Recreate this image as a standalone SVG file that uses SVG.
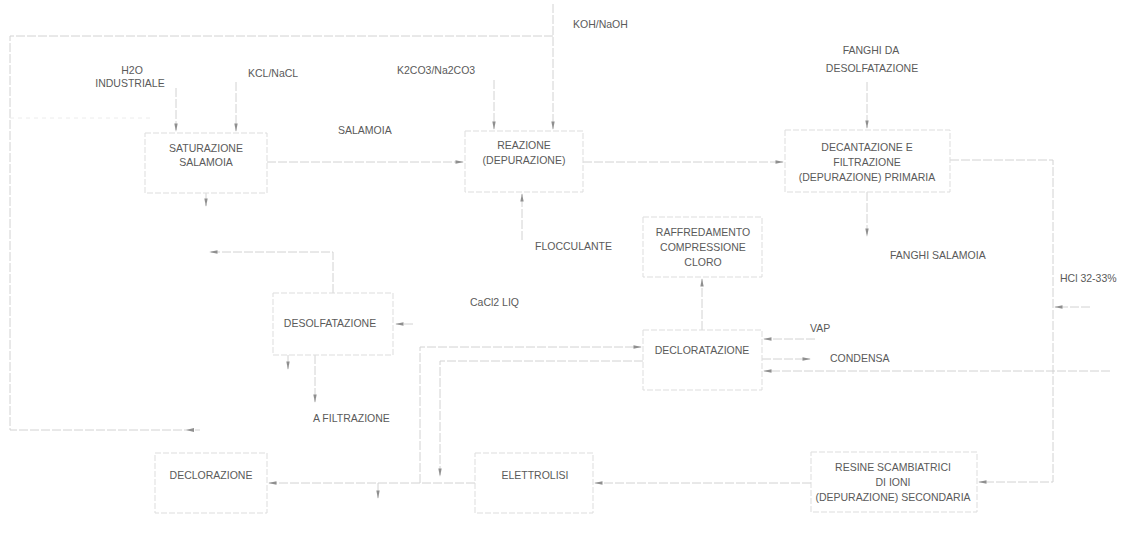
<svg xmlns="http://www.w3.org/2000/svg" width="1134" height="554" viewBox="0 0 1134 554">
<defs>
<style>
.box{fill:#fff;stroke:#dddddd;stroke-width:1;stroke-dasharray:6 2}
.ln{fill:none;stroke:#d2d2d2;stroke-width:1;stroke-dasharray:9 2}
.fl{fill:none;stroke:#ececec;stroke-width:1;stroke-dasharray:4 4}
.t{font-family:"Liberation Sans",Arial,sans-serif;font-size:10.5px;fill:#5a5a5a}
.c{text-anchor:middle}
</style>
<marker id="a" viewBox="0 0 10 6" refX="9" refY="3" markerWidth="10" markerHeight="5" markerUnits="userSpaceOnUse" orient="auto">
<path d="M0,1 L10,3 L0,5 Z" fill="#8f8f8f"/>
</marker>
</defs>
<rect width="1134" height="554" fill="#fff"/>
<g id="connectors">
<polyline class="ln" points="553,36 10,36 10,430 200,430"/>
<path d="M186,430 l8,-2 v4 z" fill="#8f8f8f"/>
<line class="fl" x1="10" y1="118" x2="150" y2="118"/>
<line class="ln" x1="176" y1="88" x2="176" y2="131" marker-end="url(#a)"/>
<line class="ln" x1="236" y1="82" x2="236" y2="131" marker-end="url(#a)"/>
<line class="ln" x1="494" y1="80" x2="494" y2="129" marker-end="url(#a)"/>
<line class="ln" x1="553" y1="4" x2="553" y2="129" marker-end="url(#a)"/>
<line class="ln" x1="867" y1="82" x2="867" y2="128" marker-end="url(#a)"/>
<line class="ln" x1="267" y1="162" x2="463" y2="162" marker-end="url(#a)"/>
<line class="ln" x1="583" y1="162" x2="783" y2="162" marker-end="url(#a)"/>
<polyline class="ln" points="950,160 1053,160 1053,482 979,482" marker-end="url(#a)"/>
<line class="ln" x1="1090" y1="307" x2="1055" y2="307" marker-end="url(#a)"/>
<line class="ln" x1="867" y1="192" x2="867" y2="236" marker-end="url(#a)"/>
<line class="ln" x1="522" y1="240" x2="522" y2="194" marker-end="url(#a)"/>
<line class="ln" x1="206" y1="193" x2="206" y2="206" marker-end="url(#a)"/>
<polyline class="ln" points="333,293 333,252 210,252" marker-end="url(#a)"/>
<line class="ln" x1="413" y1="324" x2="396" y2="324" marker-end="url(#a)"/>
<line class="ln" x1="288" y1="355" x2="288" y2="369" marker-end="url(#a)"/>
<line class="ln" x1="315" y1="355" x2="315" y2="402" marker-end="url(#a)"/>
<line class="ln" x1="702" y1="330" x2="702" y2="279" marker-end="url(#a)"/>
<line class="ln" x1="815" y1="339" x2="764" y2="339" marker-end="url(#a)"/>
<line class="ln" x1="762" y1="359" x2="810" y2="359" marker-end="url(#a)"/>
<line class="ln" x1="1110" y1="371" x2="764" y2="371" marker-end="url(#a)"/>
<line class="ln" x1="811" y1="483" x2="595" y2="483" marker-end="url(#a)"/>
<line class="ln" x1="475" y1="483" x2="269" y2="483" marker-end="url(#a)"/>
<polyline class="ln" points="420,483 420,347 641,347" marker-end="url(#a)"/>
<polyline class="ln" points="643,361 440,361 440,476" marker-end="url(#a)"/>
<line class="ln" x1="378" y1="483" x2="378" y2="498" marker-end="url(#a)"/>
</g>
<g id="labels">
<text class="t" x="573" y="28">KOH/NaOH</text>
<text class="t c" x="132" y="74">H2O</text>
<text class="t c" x="130" y="87">INDUSTRIALE</text>
<text class="t" x="248" y="77">KCL/NaCL</text>
<text class="t" x="397" y="74">K2CO3/Na2CO3</text>
<text class="t c" x="871" y="54">FANGHI DA</text>
<text class="t c" x="872" y="72">DESOLFATAZIONE</text>
<text class="t" x="338" y="134">SALAMOIA</text>
<text class="t" x="535" y="250">FLOCCULANTE</text>
<text class="t" x="890" y="259">FANGHI SALAMOIA</text>
<text class="t" x="1060" y="282">HCl 32-33%</text>
<text class="t" x="470" y="306">CaCl2 LIQ</text>
<text class="t" x="810" y="332">VAP</text>
<text class="t" x="830" y="362">CONDENSA</text>
<text class="t" x="313" y="422">A FILTRAZIONE</text>
</g>
<g id="saturazione">
<rect class="box" x="145" y="133" width="122" height="60"/>
<text class="t c" x="206" y="152">SATURAZIONE</text>
<text class="t c" x="206" y="166">SALAMOIA</text>
</g>
<g id="reazione">
<rect class="box" x="465" y="131" width="118" height="61"/>
<text class="t c" x="524" y="149">REAZIONE</text>
<text class="t c" x="524" y="164">(DEPURAZIONE)</text>
</g>
<g id="decantazione">
<rect class="box" x="785" y="130" width="165" height="62"/>
<text class="t c" x="867" y="151">DECANTAZIONE E</text>
<text class="t c" x="867" y="166">FILTRAZIONE</text>
<text class="t c" x="867" y="181">(DEPURAZIONE) PRIMARIA</text>
</g>
<g id="raffreddamento">
<rect class="box" x="643" y="217" width="119" height="60"/>
<text class="t c" x="703" y="236">RAFFREDAMENTO</text>
<text class="t c" x="703" y="251">COMPRESSIONE</text>
<text class="t c" x="703" y="266">CLORO</text>
</g>
<g id="desolfatazione">
<rect class="box" x="273" y="293" width="120" height="62"/>
<text class="t c" x="330" y="327">DESOLFATAZIONE</text>
</g>
<g id="declorata">
<rect class="box" x="643" y="330" width="119" height="60"/>
<text class="t c" x="702" y="354">DECLORATAZIONE</text>
</g>
<g id="declorazione">
<rect class="box" x="155" y="453" width="112" height="60"/>
<text class="t c" x="211" y="479">DECLORAZIONE</text>
</g>
<g id="elettrolisi">
<rect class="box" x="475" y="453" width="118" height="60"/>
<text class="t c" x="535" y="479">ELETTROLISI</text>
</g>
<g id="resine">
<rect class="box" x="811" y="452" width="166" height="60"/>
<text class="t c" x="893" y="471">RESINE SCAMBIATRICI</text>
<text class="t c" x="893" y="486">DI IONI</text>
<text class="t c" x="893" y="501">(DEPURAZIONE) SECONDARIA</text>
</g>
</svg>
